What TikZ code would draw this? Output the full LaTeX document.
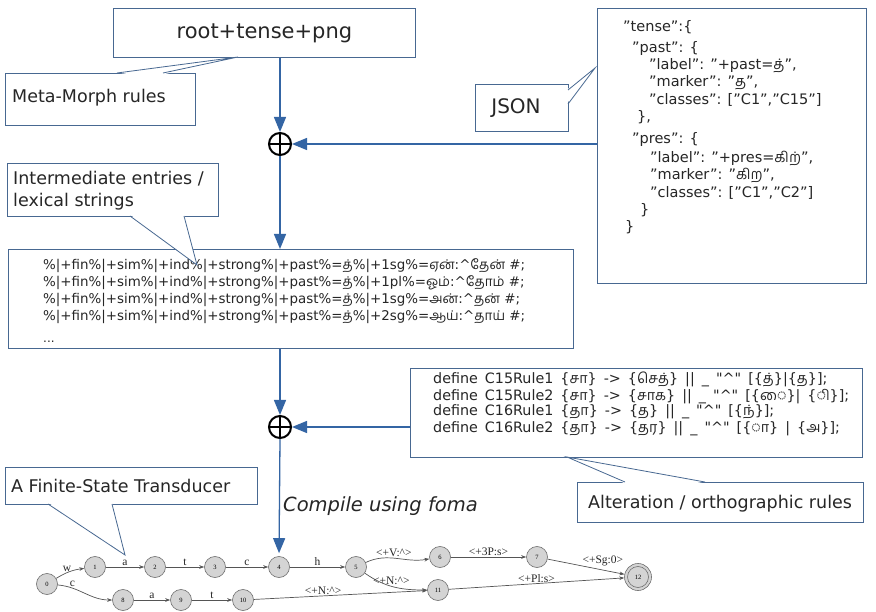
\documentclass[tikz,border=0pt]{standalone}
\usepackage{fontspec}
\setmainfont{DejaVu Sans}
\newfontfamily\ta[Script=Tamil]{Hind Madurai}
\newfontfamily\tms{Liberation Serif}
\newfontfamily\rulefont[WordSpace=1.55]{DejaVu Sans}
\usetikzlibrary{arrows.meta}
\newcommand\tm[1]{{\ta #1}}
\newcommand\fsz[1]{\fontsize{#1}{#1}\selectfont}
\definecolor{boxc}{RGB}{72,104,145}
\definecolor{arrc}{RGB}{52,101,164}
\definecolor{stf}{RGB}{212,212,212}
\definecolor{stb}{RGB}{110,110,110}
\definecolor{edg}{RGB}{85,85,85}
\begin{document}
\begin{tikzpicture}[x=1pt,y=-1pt,
  box/.style={draw=boxc, line width=0.8pt, fill=white, inner sep=0pt, anchor=north west},
  lbl/.style={font=\fsz{17.5}, inner sep=0pt, anchor=base west, text=black!85},
  code/.style={font=\fsz{14.5}, inner sep=0pt, anchor=base west, text=black!85},
  inl/.style={font=\fsz{13.4}, inner sep=0pt, anchor=base west, text=black!85},
  rule/.style={font=\rulefont\fsz{14.3}, inner sep=0pt, anchor=base west, text=black!85},
  arr/.style={draw=arrc, line width=1.3pt, -{Triangle[length=15pt,width=12pt]}},
  ptr/.style={draw=boxc, line width=0.8pt},
  oplus/.style={circle, draw=black, line width=2pt, minimum size=22pt, inner sep=0pt},
  st/.style={circle, draw=stb, fill=stf, line width=0.6pt, minimum size=21pt, inner sep=0pt, font=\tms\fsz{6.5}},
  ed/.style={draw=edg, line width=0.7pt, -{Stealth[length=5pt,width=3.6pt]}},
  el/.style={font=\tms\fsz{11.5}, inner sep=1pt, text=black!85}]
\useasboundingbox (0,0) rectangle (876,612);
\fill[white] (0,0) rectangle (876,612);

% ---- title
\node[box, minimum width=302pt, minimum height=49pt, font=\fsz{21}, text=black!85] (title) at (113,8) {root+tense+png};

% ---- Meta-Morph callout
\node[box, minimum width=190pt, minimum height=52pt] (mmb) at (5,73) {};
\node[lbl] (mm) at (12,103) {Meta-Morph rules};
\coordinate (mmtip) at (238,57);
\fill[white] (117,74.5) -- (mmtip) -- (163,74.5) -- cycle;
\draw[ptr] (117,73) -- (mmtip) -- (163,73);

% ---- JSON box
\node[box, minimum width=269pt, minimum height=275pt] (json) at (597,8) {};
\node[code] (j1) at (623,32) {"tense":\{};
\node[code] (j2) at (632,53) {"past": \{};
\node[code] (j3) at (649,70) {"label": "+past=\tm{த்}",};
\node[code] (j4) at (649,87) {"marker": "\tm{த}",};
\node[code] (j5) at (649,105) {"classes": ["C1","C15"]};
\node[code] (j6) at (637,122) {\},};
\node[code] (j7) at (632,144) {"pres": \{};
\node[code] (j8) at (650,163) {"label": "+pres=\tm{கிற்}",};
\node[code] (j9) at (650,180) {"marker": "\tm{கிற}",};
\node[code] (j10) at (650,198) {"classes": ["C1","C2"]};
\node[code] (j11) at (640,215) {\}};
\node[code] (j12) at (625,232) {\}};

% ---- JSON callout
\node[box, minimum width=93pt, minimum height=47pt] (jsb) at (475,84) {};
\node[font=\fsz{20}, inner sep=0pt, text=black!85] (jsl) at (516,108) {JSON};
\coordinate (jstip) at (595,68);
\fill[white] (566.5,90) -- (jstip) -- (566.5,104) -- cycle;
\draw[ptr] (568,90) -- (jstip) -- (568,104);

% ---- oplus 1
\node[oplus] (o1) at (280,144) {};
\draw[line width=2pt] (o1.north) -- (o1.south) (o1.west) -- (o1.east);

% ---- intermediate callout
\node[box, minimum width=211pt, minimum height=53pt] (ieb) at (7,163) {};
\node[lbl] (ie1) at (13,185) {Intermediate entries /};
\node[lbl] (ie2) at (13,207) {lexical strings};

% ---- intermediate box
\node[box, minimum width=565pt, minimum height=99pt] (inter) at (8,249) {};
\node[inl] (i1) at (43,270) {\%|+fin\%|+sim\%|+ind\%|+strong\%|+past\%=\tm{த்}\%|+1sg\%=\tm{ஏன்}:\textasciicircum\tm{தேன்} \#;};
\node[inl] (i2) at (43,287) {\%|+fin\%|+sim\%|+ind\%|+strong\%|+past\%=\tm{த்}\%|+1pl\%=\tm{ஓம்}:\textasciicircum\tm{தோம்} \#;};
\node[inl] (i3) at (43,304) {\%|+fin\%|+sim\%|+ind\%|+strong\%|+past\%=\tm{த்}\%|+1sg\%=\tm{அன்}:\textasciicircum\tm{தன்} \#;};
\node[inl] (i4) at (43,321) {\%|+fin\%|+sim\%|+ind\%|+strong\%|+past\%=\tm{த்}\%|+2sg\%=\tm{ஆய்}:\textasciicircum\tm{தாய்} \#;};
\node[inl, font=\fsz{12}] (i5) at (43,343) {...};

\coordinate (ietip) at (197,265);
\fill[white] (130,214.5) -- (ietip) -- (184,214.5) -- cycle;
\draw[ptr] (130,216) -- (ietip) -- (184,216);

% ---- oplus 2
\node[oplus] (o2) at (280,427) {};
\draw[line width=2pt] (o2.north) -- (o2.south) (o2.west) -- (o2.east);

% ---- rules box
\node[box, minimum width=452pt, minimum height=89pt] (rules) at (410,368) {};
\node[rule] (r1) at (433,384) {define C15Rule1 \{\tm{சா}\} -> \{\tm{செத்}\} || \_ "\textasciicircum" [\{\tm{த்}\}|\{\tm{த}\}];};
\node[rule] (r2) at (433,400) {define C15Rule2 \{\tm{சா}\} -> \{\tm{சாக}\} || \_ "\textasciicircum" [\{\tm{ை}\}| \{\tm{ி}\}];};
\node[rule] (r3) at (433,416) {define C16Rule1 \{\tm{தா}\} -> \{\tm{த}\} || \_ "\textasciicircum" [\{\tm{ந்}\}];};
\node[rule] (r4) at (433,432) {define C16Rule2 \{\tm{தா}\} -> \{\tm{தர}\} || \_ "\textasciicircum" [\{\tm{ா}\} | \{\tm{அ}\}];};

% ---- alteration callout
\node[box, minimum width=286pt, minimum height=40pt] (alb) at (577,482) {};
\node[lbl] (al) at (588,508) {Alteration / orthographic rules};
\coordinate (altip) at (567,457);
\fill[white] (625,483.5) -- (altip) -- (705,483.5) -- cycle;
\draw[ptr] (625,482) -- (altip) -- (705,482);

% ---- FST callout
\node[box, minimum width=252pt, minimum height=37pt] (fsb) at (5,467) {};
\node[lbl] (fs) at (11,492) {A Finite-State Transducer};
\coordinate (fstip) at (125,555);
\fill[white] (48,502.5) -- (fstip) -- (112,502.5) -- cycle;
\draw[ptr] (48,504) -- (fstip) -- (112,504);

% ---- compile label
\node[font=\itshape\fsz{19.5}, inner sep=0pt, anchor=base west, text=black!85] (cmp) at (283,511) {Compile using foma};

% ---- FST
\node[st] (s0) at (47,584) {0};
\node[st] (s1) at (95,567) {1};
\node[st] (s2) at (155,567) {2};
\node[st] (s3) at (215,567) {3};
\node[st] (s4) at (279,567) {4};
\node[st] (s5) at (356,567) {5};
\node[st] (s6) at (440,557) {6};
\node[st] (s7) at (537,557) {7};
\node[st, minimum size=27pt] (s12) at (638,577) {12};
\draw[stb, line width=0.6pt] (s12.center) circle (10.5pt);
\node[st] (s11) at (438,590) {11};
\node[st] (s8) at (123,600) {8};
\node[st] (s9) at (181,600) {9};
\node[st] (s10) at (243,600) {10};

\draw[ed] (s0) to[bend left=12] node[el, above, pos=.4] {w} (s1);
\draw[ed] (s0) to[out=-5, in=180] node[el, above, pos=.25] {c} (s8);
\draw[ed] (s1) -- node[el, above] {a} (s2);
\draw[ed] (s2) -- node[el, above] {t} (s3);
\draw[ed] (s3) -- node[el, above] {c} (s4);
\draw[ed] (s4) -- node[el, above] {h} (s5);
\draw[ed] (s8) -- node[el, above] {a} (s9);
\draw[ed] (s9) -- node[el, above] {t} (s10);
\draw[ed] (s10) -- node[el, above, pos=.4] {<+N:\textasciicircum>} (s11);
\draw[ed] (s5) to[out=25, in=190] node[el, above, pos=.45] {<+V:\textasciicircum>} (s6);
\draw[ed] (s5) to[out=-35, in=180] node[el, above, pos=.45] {<+N:\textasciicircum>} (s11);
\draw[ed] (s6) -- node[el, above] {<+3P:s>} (s7);
\draw[ed] (s7) -- node[el, above right, pos=.45, inner sep=0pt] {<+Sg:0>} (s12);
\draw[ed] (s11) -- node[el, above] {<+Pl:s>} (s12);

% ---- arrows
\draw[arr] (title.south -| o1) -- (o1.north);
\draw[arr] (json.west |- o1) -- (o1.east);
\draw[arr] (o1.south) -- (inter.north -| o1);
\draw[arr] (inter.south -| o2) -- (o2.north);
\draw[arr] (rules.west |- o2) -- (o2.east);
\draw[arr, shorten >=3pt] (o2.south) -- (s4.north);
\end{tikzpicture}
\end{document}
